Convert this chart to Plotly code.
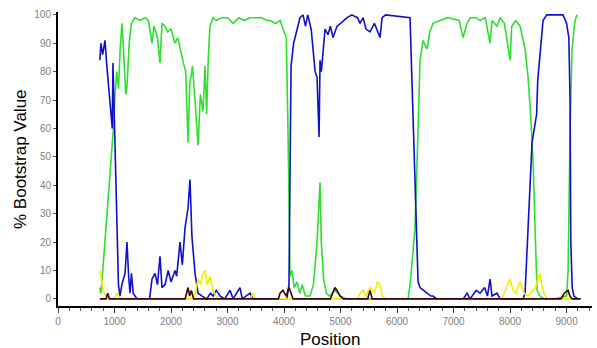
import plotly.graph_objects as go

# ---- data ----
green_pos = [740, 760, 800, 850, 900, 940, 980, 1010, 1040, 1070, 1100, 1133, 1160, 1200, 1221, 1260, 1300, 1363,
             1450, 1540, 1600, 1664, 1700, 1760, 1805, 1840, 1894, 1940, 2000, 2071, 2120, 2159, 2220, 2260, 2301,
             2330, 2380, 2425, 2478, 2520, 2566, 2602, 2630, 2660, 2690, 2743, 2800, 2900, 3000, 3100, 3200, 3300,
             3400, 3500, 3600, 3700, 3752, 3850, 3930, 3982, 4040, 4070, 4088, 4106, 4142, 4180, 4230, 4280, 4320,
             4380, 4460, 4520, 4584, 4637, 4660, 4700, 4750, 4800, 4900, 5000, 5100, 5500, 6000, 6195, 6230, 6290,
             6319, 6350, 6380, 6407, 6460, 6531, 6580, 6637, 6761, 6900, 7100, 7168, 7239, 7300, 7400, 7469,
             7560, 7646, 7680, 7770, 7823, 7900, 8000, 8030, 8100, 8177, 8265, 8319, 8360, 8407, 8450, 8478, 8531,
             8600, 8800, 9000, 9027, 9062, 9097, 9150, 9186]
green_val = [4, 2, 12, 25, 38, 48, 60, 72, 80, 74, 88, 97, 85, 72, 75, 90, 97, 99,
             98, 99, 98, 90, 96, 92, 83, 97, 96, 94, 95, 90, 92, 88, 83, 80, 55,
             75, 82, 70, 54, 72, 66, 82, 65, 85, 96, 99, 98, 99, 99, 97, 99, 98,
             99, 99, 99, 98, 98, 97, 98, 95, 92, 60, 20, 8, 10, 4, 6, 2, 5,
             1, 1, 5, 20, 41, 20, 7, 2, 1, 3, 1, 0, 0, 0, 0, 5, 20,
             25, 45, 66, 84, 91, 88, 94, 97, 98, 99, 98, 92, 97, 99, 99, 98,
             99, 90, 98, 96, 99, 97, 84, 96, 98, 96, 88, 78, 66, 49, 20, 3, 1,
             0, 0, 1, 10, 60, 88, 98, 100]

blue_pos = [740, 760, 790, 832, 860, 890, 920, 960, 973, 1000, 1030, 1044, 1070, 1097, 1130, 1186, 1221, 1250,
            1274, 1300, 1330, 1400, 1620, 1664, 1717, 1760, 1805, 1840, 1894, 1950, 2000, 2071, 2100, 2159, 2200,
            2248, 2301, 2336, 2370, 2425, 2478, 2550, 2630, 2700, 2743, 2800, 2870, 2950, 3044, 3100, 3221, 3260,
            3398, 3450, 4050, 4088, 4106, 4124, 4170, 4230, 4283, 4336, 4380, 4420, 4480, 4550, 4584, 4620, 4637,
            4660, 4726, 4779, 4820, 4867, 4900, 4938, 5000, 5115, 5200, 5300, 5345, 5400, 5450, 5522, 5600, 5699,
            5735, 5800, 6230, 6265, 6320, 6372, 6407, 6460, 6531, 6600, 6637, 6700, 7168, 7239, 7292,
            7400, 7469, 7550, 7600, 7646, 7680, 7770, 7823, 8230, 8265, 8389, 8470, 8490, 8584, 8650, 8938,
            9000, 9040, 9062, 9075, 9100, 9130, 9200]
blue_val = [84, 90, 86, 91, 83, 76, 68, 60, 83, 60, 35, 17, 5, 1, 5, 9, 20, 8,
            2, 9, 2, 0, 0, 7, 9, 5, 15, 4, 5, 10, 6, 10, 8, 20, 12,
            25, 32, 42, 22, 9, 2, 1, 0, 2, 1, 3, 1, 0, 3, 0, 4, 0,
            2, 0, 0, 5, 40, 82, 90, 95, 99, 100, 96, 100, 95, 80, 78, 57, 84,
            80, 95, 93, 96, 92, 94, 96, 97, 99, 100, 99, 97, 99, 95, 94, 97, 92,
            99, 100, 99, 78, 40, 6, 4, 3, 2, 1, 1, 0, 0, 2, 0,
            3, 2, 4, 1, 7, 1, 2, 0, 0, 2, 55, 65, 77, 98, 100, 100,
            97, 92, 70, 20, 4, 1, 0]

yellow_pos = [740, 760, 800, 850, 900, 1000, 1050, 1100, 2400, 2450, 2478, 2520, 2566, 2602, 2640, 2690, 2743,
              2800, 2850, 3400, 3450, 3500, 5300, 5345, 5400, 5450, 5522, 5600, 5650, 5699, 5740, 5800, 7850,
              7900, 7950, 8000, 8050, 8100, 8177, 8250, 8319, 8400, 8450, 8478, 8531, 8560, 8600, 8650, 9250]
yellow_val = [10, 7, 3, 1, 0, 0, 2, 0, 0, 4, 7, 5, 9, 10, 5, 8, 3,
              1, 0, 0, 2, 0, 0, 2, 3, 1, 4, 2, 6, 5, 1, 0, 0,
              2, 5, 7, 3, 2, 6, 2, 1, 3, 4, 6, 9, 5, 2, 0, 0]

brown_pos = [740, 850, 880, 910, 2250, 2280, 2301, 2330, 2360, 2400, 3900, 3930, 3982, 4040, 4088, 4124, 4160,
             4820, 4867, 4900, 4938, 4991, 5050, 5480, 5522, 5560, 8900, 8960, 9027, 9060, 9100, 9250]
brown_val = [0, 0, 2, 0, 0, 3, 4, 1, 3, 0, 0, 2, 3, 1, 4, 2, 0,
             0, 2, 4, 3, 1, 0, 0, 3, 0, 0, 2, 3, 1, 0, 0]

x_title = "Position"
y_title = "% Bootstrap Value"

fig = go.Figure()
series = [
    (green_pos, green_val, "#2ee02e"),
    (blue_pos, blue_val, "#1010cc"),
    (yellow_pos, yellow_val, "#f2f000"),
    (brown_pos, brown_val, "#3a0505"),
]
for xs, ys, col in series:
    fig.add_trace(go.Scatter(x=xs, y=ys, mode="lines", line=dict(color=col, width=1.6),
                             showlegend=False, hoverinfo="skip"))

fig.update_layout(
    width=597, height=348,
    margin=dict(l=58, r=5, t=12, b=42),
    paper_bgcolor="white", plot_bgcolor="white",
    font=dict(family="Arial, Liberation Sans, sans-serif"),
    xaxis=dict(range=[0, 9450], dtick=1000, tick0=0, showgrid=False, zeroline=False,
               showline=True, linecolor="black", linewidth=2,
               ticks="outside", ticklen=5, tickcolor="#333", tickwidth=1,
               tickfont=dict(size=10, color="#808080"),
               minor=dict(dtick=200, ticks="outside", ticklen=3, tickcolor="#555")),
    yaxis=dict(range=[-2.5, 101], dtick=10, tick0=0, showgrid=False, zeroline=False,
               showline=True, linecolor="black", linewidth=2,
               ticks="outside", ticklen=3, tickcolor="#555", tickwidth=1,
               tickfont=dict(size=10, color="#808080")),
    annotations=[
        dict(text=x_title, xref="paper", yref="paper", x=0.51, y=0, yshift=-22, yanchor="top",
             showarrow=False, font=dict(size=17, color="black")),
        dict(text=y_title, xref="paper", yref="paper", x=0, xshift=-38, y=0.5, xanchor="center",
             textangle=-90, showarrow=False, font=dict(size=17, color="black")),
    ],
)

fig.write_html("out.html")
